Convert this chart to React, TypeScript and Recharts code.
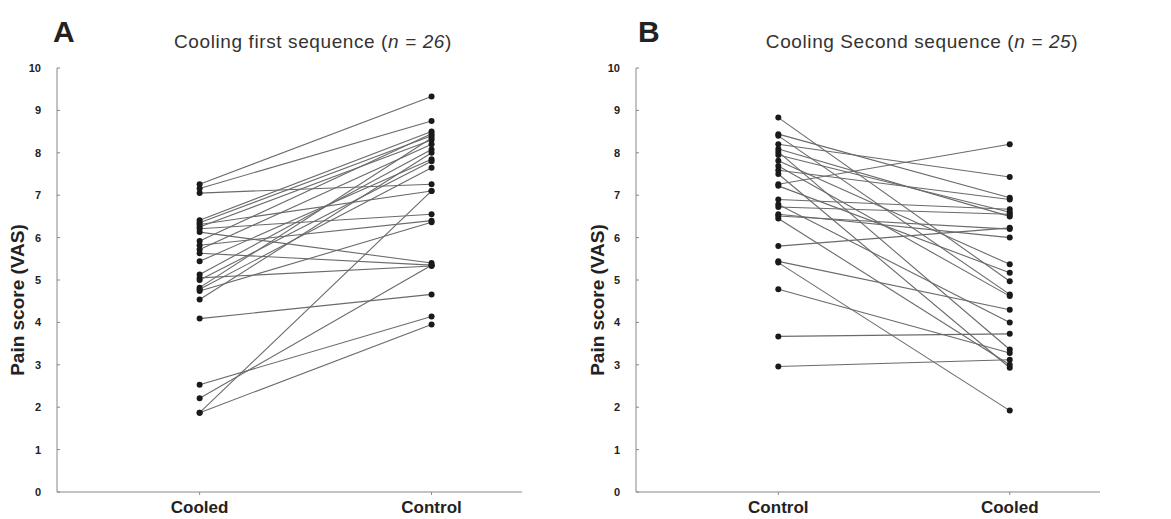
import React from "react";
import { ScatterChart, Scatter, XAxis, YAxis } from "recharts";

// panel A: cooling first sequence (n = 26)
const categoriesA = ["Cooled", "Control"];
const cooledA = [7.26, 7.16, 7.05, 6.41, 6.35, 6.31, 6.25, 6.21, 6.13, 5.92, 5.82, 5.72, 5.63, 5.44, 5.13, 5.05, 5.0, 4.82, 4.74, 4.54, 4.09, 2.53, 2.21, 1.87, 1.87, 4.78];
const controlA = [9.33, 8.75, 7.26, 8.5, 8.4, 7.1, 8.3, 6.55, 5.4, 8.45, 6.4, 8.2, 5.35, 7.85, 8.08, 5.33, 7.8, 8.35, 6.36, 8.0, 4.66, 4.14, 5.35, 3.95, 7.1, 7.65];

// panel B: cooling second sequence (n = 25)
const categoriesB = ["Control", "Cooled"];
const controlB = [8.83, 8.44, 8.4, 8.2, 8.09, 8.02, 7.95, 7.81, 7.69, 7.59, 7.5, 7.26, 7.22, 6.9, 6.78, 6.72, 6.55, 6.51, 6.45, 5.8, 5.44, 5.41, 4.78, 3.67, 2.96];
const cooledB = [4.97, 6.94, 4.66, 7.43, 6.5, 3.36, 6.6, 5.37, 4.62, 6.9, 2.93, 8.2, 5.17, 6.67, 4.0, 6.55, 6.0, 6.2, 3.0, 6.23, 4.3, 1.92, 3.28, 3.73, 3.12];

const yTicks = [0, 1, 2, 3, 4, 5, 6, 7, 8, 9, 10];

const pairs = (left: number[], right: number[]) =>
  left.map((v, i) => [
    { x: 0, y: v },
    { x: 1, y: right[i] },
  ]);

const Dot = (props: any) => <circle cx={props.cx} cy={props.cy} r={3} fill="#1a1a1a" />;

const YTick = (props: any) => {
  const { x, y, payload } = props;
  return (
    <g>
      <text x={x} y={y} dy={4} textAnchor="end" fontSize={11} fontWeight="bold" fill="#222" fontFamily="Liberation Sans, Arial, sans-serif">
        {payload.value}
      </text>
      <line x1={x + 16} x2={x + 19} y1={y} y2={y} stroke="#888" />
    </g>
  );
};

function Panel({ left, right, cats, width, marginRight }: any) {
  const rows = pairs(left, right);
  return (
    <ScatterChart width={width} height={519} margin={{ top: 68, right: marginRight, bottom: 0, left: 0 }}>
      <XAxis
        type="number"
        dataKey="x"
        domain={[-0.615, 1.39]}
        ticks={[0, 1]}
        tickFormatter={(i: number) => cats[i]}
        height={27}
        tickSize={3}
        tickMargin={6}
        stroke="#888"
        tick={{ fill: "#222", fontSize: 17, fontWeight: "bold", fontFamily: "Liberation Sans, Arial, sans-serif" }}
      />
      <YAxis
        type="number"
        dataKey="y"
        domain={[0, 10]}
        ticks={yTicks}
        width={57}
        tickSize={0}
        tickMargin={16}
        stroke="#888"
        tick={<YTick />}
      />
      {rows.map((r, i) => (
        <Scatter
          key={i}
          data={r}
          line={{ stroke: "#6a6a6a", strokeWidth: 1.1 }}
          shape={Dot}
          isAnimationActive={false}
        />
      ))}
    </ScatterChart>
  );
}

const font = "Liberation Sans, Arial, sans-serif";

export default function App() {
  return (
    <div style={{ position: "absolute", left: 0, top: 0, width: 1171, height: 519, background: "#fff", fontFamily: font }}>
      <div style={{ position: "absolute", left: 0, top: 0 }}>
        <Panel left={cooledA} right={controlA} cats={categoriesA} width={560} marginRight={38} />
      </div>
      <div style={{ position: "absolute", left: 579, top: 0 }}>
        <Panel left={controlB} right={cooledB} cats={categoriesB} width={592} marginRight={71} />
      </div>

      <div style={{ position: "absolute", left: 53, top: 15, fontSize: 30, fontWeight: "bold", color: "#222" }}>A</div>
      <div style={{ position: "absolute", left: 638, top: 15, fontSize: 30, fontWeight: "bold", color: "#222" }}>B</div>

      <div style={{ position: "absolute", left: 113, width: 400, top: 31, textAlign: "center", fontSize: 19, color: "#333", letterSpacing: 0.6 }}>
        Cooling first sequence (<i>n = 26</i>)
      </div>
      <div style={{ position: "absolute", left: 722, width: 400, top: 31, textAlign: "center", fontSize: 19, color: "#333", letterSpacing: 0.6 }}>
        Cooling Second sequence (<i>n = 25</i>)
      </div>

      <div style={{ position: "absolute", left: 18, top: 300, transform: "translate(-50%, -50%) rotate(-90deg)", whiteSpace: "nowrap", fontSize: 19, fontWeight: "bold", color: "#222" }}>
        Pain score (VAS)
      </div>
      <div style={{ position: "absolute", left: 598, top: 300, transform: "translate(-50%, -50%) rotate(-90deg)", whiteSpace: "nowrap", fontSize: 19, fontWeight: "bold", color: "#222" }}>
        Pain score (VAS)
      </div>
    </div>
  );
}
